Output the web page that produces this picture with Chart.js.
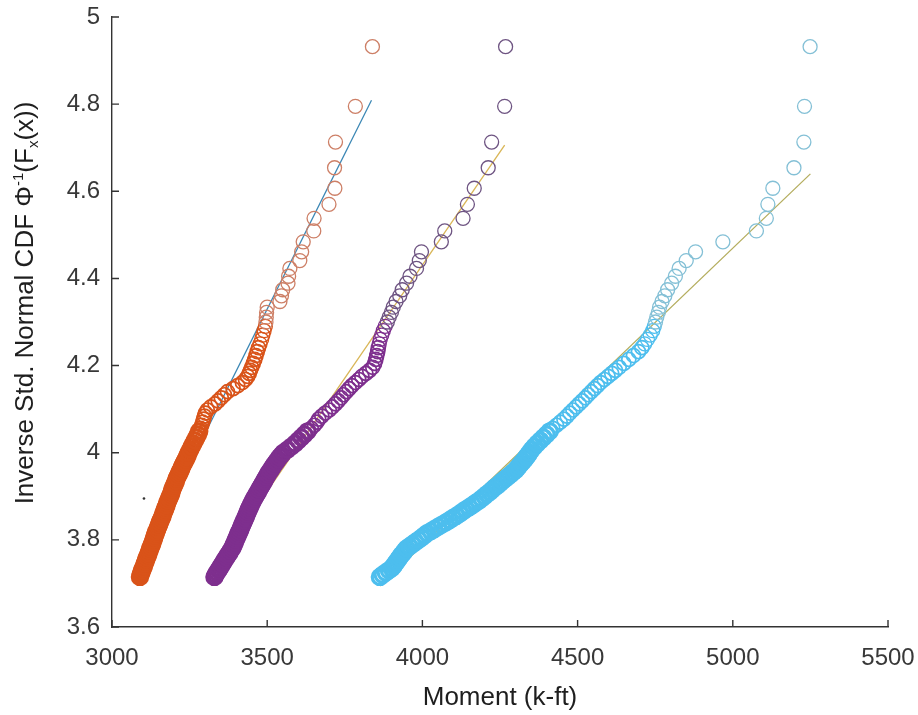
<!DOCTYPE html>
<html>
<head>
<meta charset="utf-8">
<script src="https://cdn.jsdelivr.net/npm/chart.js@4.4.1/dist/chart.umd.min.js"></script>
<style>
  html, body { margin: 0; padding: 0; background: #fff; }
  #wrap { width: 918px; height: 715px; }
</style>
</head>
<body>
<div id="wrap"><canvas id="probPlot" width="918" height="715"></canvas></div>
<script>
// inverse std. normal CDF levels (shared by the three series, same ranks)
const probLevels = [
  3.715, 3.72, 3.725, 3.73, 3.735, 3.74, 3.745, 3.75, 3.755, 3.76,
  3.765, 3.77, 3.775, 3.78, 3.785, 3.79, 3.795, 3.8, 3.805, 3.81,
  3.815, 3.82, 3.825, 3.83, 3.835, 3.84, 3.845, 3.85, 3.855, 3.86,
  3.865, 3.87, 3.875, 3.88, 3.885, 3.89, 3.895, 3.9, 3.905, 3.91,
  3.915, 3.92, 3.925, 3.93, 3.935, 3.94, 3.945, 3.95, 3.955, 3.96,
  3.965, 3.97, 3.975, 3.98, 3.985, 3.99, 3.995, 4.0,
  4.007, 4.014, 4.021, 4.028, 4.035, 4.042, 4.049, 4.056, 4.063, 4.07,
  4.077, 4.084, 4.091, 4.098, 4.105, 4.112, 4.119, 4.126, 4.133, 4.14,
  4.147, 4.154, 4.161, 4.168, 4.175, 4.182, 4.189, 4.196,
  4.205, 4.214, 4.223, 4.232, 4.241, 4.25, 4.26, 4.27, 4.28, 4.29,
  4.3, 4.311, 4.322, 4.334, 4.347, 4.36, 4.374, 4.389, 4.405, 4.423,
  4.441, 4.461, 4.484, 4.509, 4.538, 4.57, 4.607, 4.654, 4.713, 4.795, 4.932
];

// moment (k-ft) of each series at the levels above
const orangeMoment = [
  3090, 3092, 3095, 3097, 3100, 3103, 3105, 3108, 3110, 3113,
  3116, 3118, 3121, 3123, 3126, 3129, 3131, 3134, 3136, 3138,
  3141, 3143, 3146, 3149, 3152, 3154, 3157, 3160, 3163, 3165,
  3168, 3171, 3173, 3176, 3178, 3181, 3184, 3187, 3190, 3192,
  3194, 3197, 3200, 3203, 3206, 3208, 3211, 3215, 3218, 3221,
  3224, 3227, 3231, 3234, 3238, 3241, 3244, 3247,
  3252, 3257, 3262, 3267, 3272, 3277, 3281, 3285, 3289, 3292,
  3295, 3298, 3301, 3307, 3318, 3332, 3342, 3352, 3362, 3372,
  3390, 3405, 3420, 3430, 3437, 3442, 3446, 3450,
  3455, 3460, 3464, 3468, 3472, 3477, 3482, 3486, 3490, 3494,
  3496, 3497, 3498, 3500, 3541, 3546, 3550, 3567, 3569, 3573,
  3605, 3611, 3616, 3650, 3651, 3699, 3718, 3717, 3720, 3784, 3839
];
const purpleMoment = [
  3330, 3334, 3338, 3343, 3347, 3351, 3356, 3360, 3364, 3369,
  3373, 3378, 3382, 3387, 3390, 3393, 3396, 3399, 3402, 3405,
  3408, 3411, 3414, 3417, 3420, 3423, 3426, 3429, 3432, 3435,
  3438, 3441, 3444, 3447, 3451, 3454, 3458, 3462, 3466, 3470,
  3474, 3478, 3482, 3486, 3490, 3494, 3498, 3502, 3506, 3511,
  3515, 3520, 3525, 3530, 3535, 3540, 3546, 3552,
  3565, 3578, 3590, 3600, 3610, 3620, 3630, 3642, 3652, 3660,
  3666, 3676, 3687, 3700, 3710, 3720, 3729, 3738, 3746, 3755,
  3764, 3773, 3784, 3795, 3805, 3818, 3830, 3840,
  3846, 3850, 3853, 3856, 3858, 3861, 3864, 3869, 3874, 3880,
  3887, 3893, 3900, 3906, 3915, 3927, 3935, 3949, 3960, 3981,
  3990, 3997, 4061, 4072, 4131, 4145, 4167, 4212, 4223, 4265, 4268
];
const cyanMoment = [
  3863, 3872, 3882, 3892, 3901, 3907, 3912, 3917, 3922, 3927,
  3932, 3938, 3943, 3949, 3958, 3968, 3978, 3988, 3997, 4006,
  4015, 4027, 4039, 4051, 4063, 4075, 4087, 4098, 4109, 4120,
  4130, 4140, 4151, 4162, 4172, 4182, 4191, 4200, 4208, 4217,
  4225, 4233, 4242, 4250, 4258, 4267, 4275, 4284, 4292, 4300,
  4306, 4312, 4318, 4324, 4330, 4335, 4340, 4345,
  4352, 4361, 4370, 4380, 4390, 4400, 4410, 4420, 4432, 4444,
  4456, 4466, 4475, 4485, 4495, 4505, 4515, 4525, 4534, 4544,
  4554, 4564, 4574, 4586, 4598, 4610, 4622, 4634,
  4649, 4665, 4680, 4696, 4707, 4716, 4725, 4734, 4742, 4747,
  4751, 4755, 4760, 4764, 4772, 4781, 4790, 4803, 4815, 4827,
  4850, 4880, 4968, 5076, 5108, 5113, 5129, 5197, 5229, 5231, 5249
];

// fitted lines (end points)
const orangeFitX = [3090, 3836];
const orangeFitY = [3.745, 4.809];
const purpleFitX = [3330, 4265];
const purpleFitY = [3.735, 4.706];
const cyanFitX = [3863, 5250];
const cyanFitY = [3.694, 4.640];

// stray dot left of the orange band
const strayX = [3103];
const strayY = [3.895];

const xTicks = [3000, 3500, 4000, 4500, 5000, 5500];
const yTicks = [3.6, 3.8, 4, 4.2, 4.4, 4.6, 4.8, 5];
const xTitle = 'Moment (k-ft)';

const FONT = '"Liberation Sans", Arial, Helvetica, sans-serif';

function toPoints(xs, ys) {
  return xs.map((x, i) => ({ x: x, y: ys[i] }));
}

function levelOf(ctx) {
  return ctx.raw ? ctx.raw.y : 5;
}

// dense lower part overlaps into a solid band, sparse tail rings look lighter
function rings(color, tailColor, xs) {
  return {
    type: 'scatter',
    data: toPoints(xs, probLevels),
    pointBorderColor: ctx => (levelOf(ctx) >= 4.3 ? tailColor : color),
    pointBackgroundColor: 'rgba(0,0,0,0)',
    pointRadius: ctx => (levelOf(ctx) < 4.05 ? 7.6 : 7),
    pointHoverRadius: 7,
    pointBorderWidth: ctx => {
      const y = levelOf(ctx);
      if (y < 4.05) return 3.2;
      if (y < 4.25) return 1.7;
      return 1.3;
    },
    showLine: false,
    order: 1,
  };
}

function fitLine(color, xs, ys) {
  return {
    type: 'line',
    data: toPoints(xs, ys),
    borderColor: color,
    borderWidth: 1.3,
    pointRadius: 0,
    fill: false,
    order: 2,
  };
}

// inward tick marks and axis titles
const axisDecor = {
  id: 'axisDecor',
  afterDraw(chart) {
    const { ctx, chartArea: a, scales: { x, y } } = chart;
    ctx.save();
    ctx.strokeStyle = '#333';
    ctx.lineWidth = 1.4;
    ctx.beginPath();
    xTicks.forEach(v => {
      const px = x.getPixelForValue(v);
      ctx.moveTo(px, a.bottom);
      ctx.lineTo(px, a.bottom - 7);
    });
    yTicks.forEach(v => {
      const py = y.getPixelForValue(v);
      ctx.moveTo(a.left, py);
      ctx.lineTo(a.left + 7, py);
    });
    ctx.stroke();

    ctx.fillStyle = '#1e1e1e';
    ctx.font = '26px ' + FONT;
    ctx.textAlign = 'center';
    ctx.textBaseline = 'alphabetic';
    ctx.fillText(xTitle, (a.left + a.right) / 2, 705);

    // y title with superscript / subscript
    const parts = [
      { t: 'Inverse Std. Normal CDF \u03A6', s: 26, dy: 0 },
      { t: '-1', s: 15, dy: -10 },
      { t: '(F', s: 26, dy: 0 },
      { t: 'x', s: 15, dy: 5 },
      { t: '(x))', s: 26, dy: 0 },
    ];
    let total = 0;
    parts.forEach(p => { ctx.font = p.s + 'px ' + FONT; p.w = ctx.measureText(p.t).width; total += p.w; });
    ctx.translate(33, 303);
    ctx.rotate(-Math.PI / 2);
    ctx.textAlign = 'left';
    let cx = -total / 2;
    parts.forEach(p => {
      ctx.font = p.s + 'px ' + FONT;
      ctx.fillText(p.t, cx, p.dy);
      cx += p.w;
    });
    ctx.restore();
  }
};

new Chart(document.getElementById('probPlot'), {
  type: 'scatter',
  data: {
    datasets: [
      fitLine('#3a86b4', orangeFitX, orangeFitY),
      fitLine('#d9b657', purpleFitX, purpleFitY),
      fitLine('#b4ad5e', cyanFitX, cyanFitY),
      rings('#D95319', '#cd7f66', orangeMoment),
      rings('#7E2F8E', '#6e5482', purpleMoment),
      rings('#4DBEEE', '#84c0d6', cyanMoment),
      {
        type: 'scatter',
        data: toPoints(strayX, strayY),
        pointRadius: 1.3,
        pointBorderWidth: 0,
        pointBackgroundColor: '#333',
        order: 3,
      },
    ],
  },
  options: {
    responsive: false,
    animation: false,
    layout: { padding: { top: 17, right: 30, left: 0, bottom: 0 } },
    plugins: { legend: { display: false }, tooltip: { enabled: false } },
    scales: {
      x: {
        type: 'linear',
        min: 3000,
        max: 5500,
        afterBuildTicks: s => { s.ticks = xTicks.map(v => ({ value: v })); },
        afterFit: s => { s.height = 88; s.paddingLeft = 0; s.paddingRight = 0; },
        ticks: {
          callback: v => String(v),
          font: { family: FONT, size: 24 },
          color: '#383838',
          padding: 17,
          maxRotation: 0,
          autoSkip: false,
        },
        grid: { display: false, drawTicks: false },
        border: { display: true, color: '#333', width: 1.4 },
      },
      y: {
        type: 'linear',
        min: 3.6,
        max: 5,
        afterBuildTicks: s => { s.ticks = yTicks.map(v => ({ value: v })); },
        afterFit: s => { s.width = 112; s.paddingTop = 0; s.paddingBottom = 0; },
        ticks: {
          callback: v => String(v),
          font: { family: FONT, size: 24 },
          color: '#383838',
          padding: 12,
          autoSkip: false,
        },
        grid: { display: false, drawTicks: false },
        border: { display: true, color: '#333', width: 1.4 },
      },
    },
  },
  plugins: [axisDecor],
});
</script>
</body>
</html>
